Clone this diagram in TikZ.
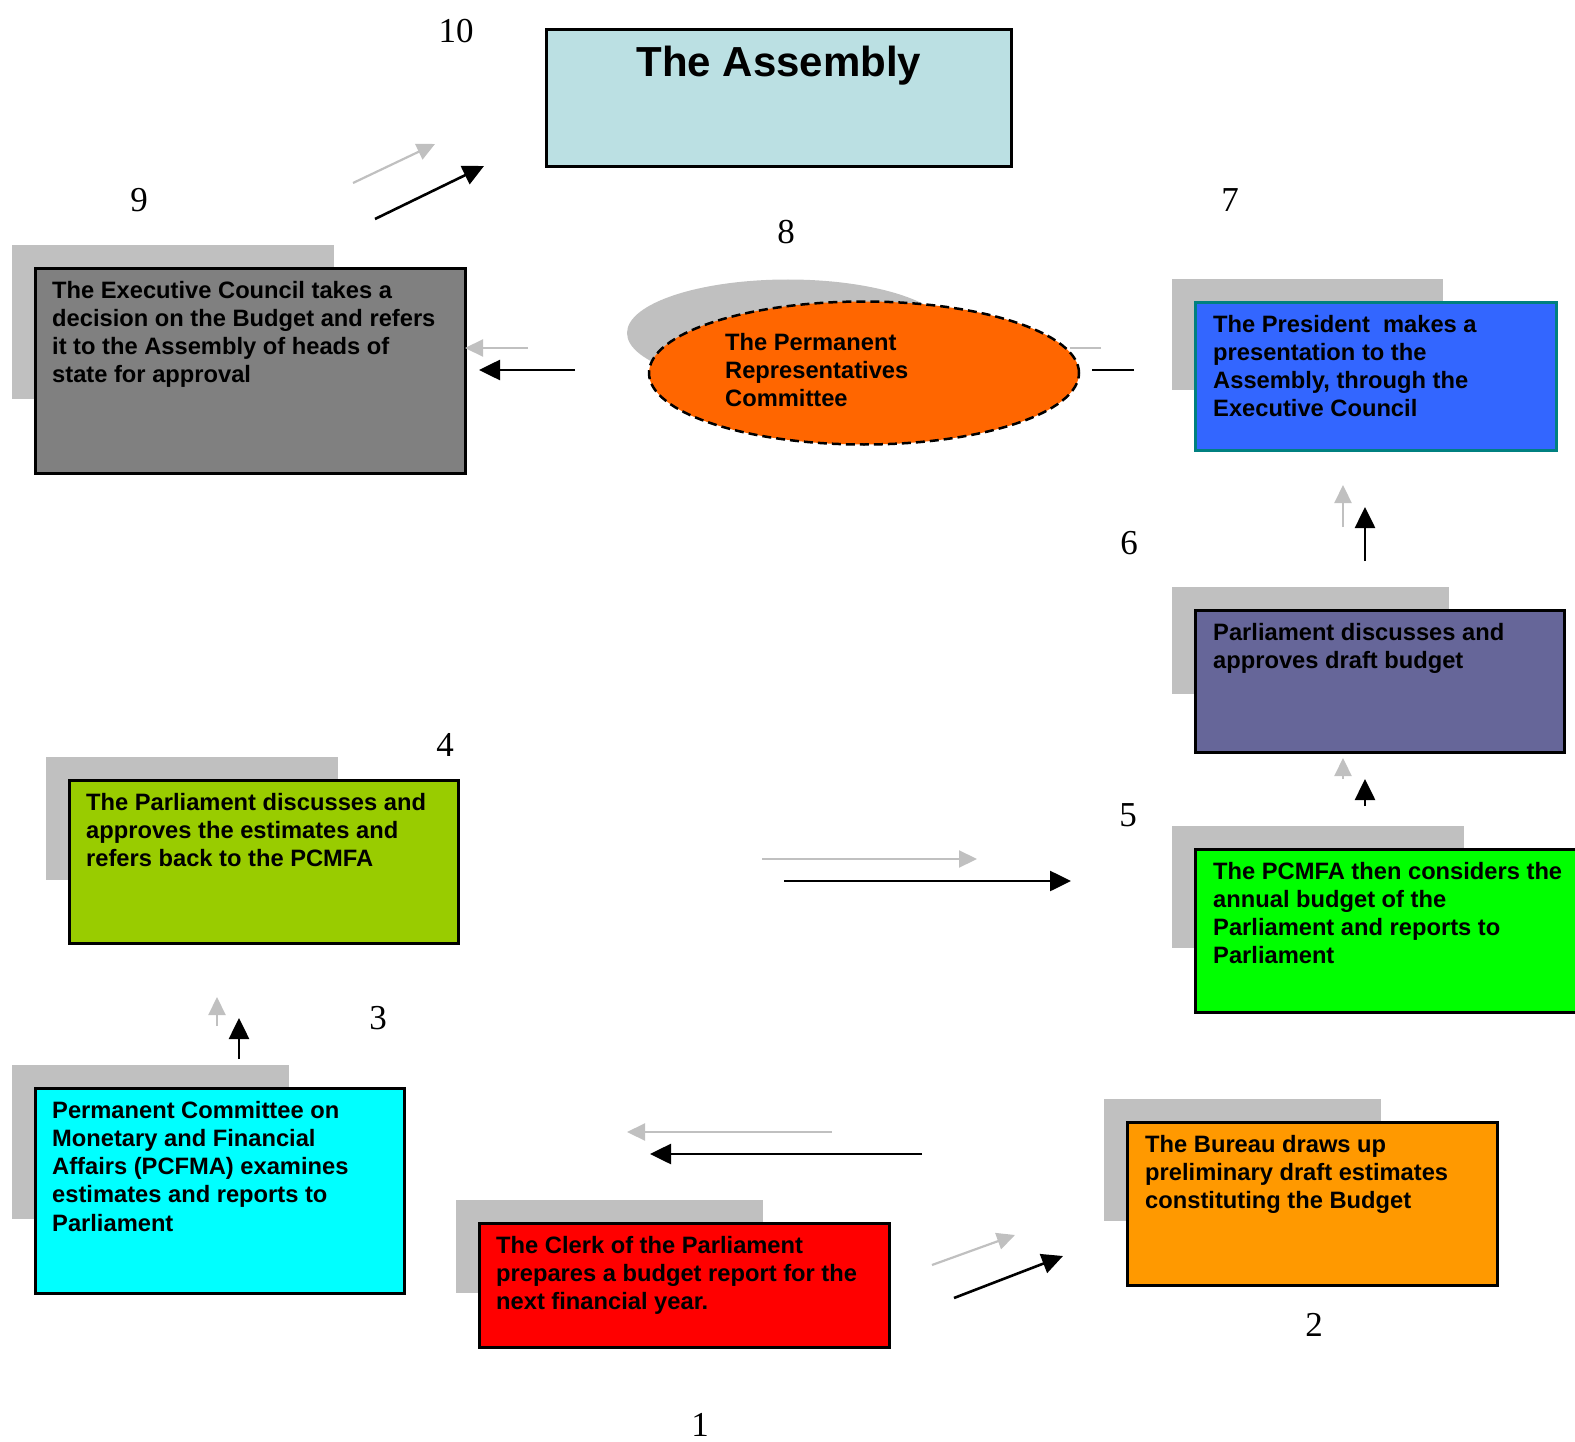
\documentclass[tikz,border=0pt]{standalone}
\usepackage{fontspec}
\newfontfamily\arialfont{Liberation Sans}
\newfontfamily\timesfont{Liberation Serif}
\usepackage{tikz}
\usetikzlibrary{positioning,shapes.geometric,arrows.meta}
\definecolor{assemblyblue}{HTML}{BBE0E3}
\definecolor{execgray}{HTML}{808080}
\definecolor{prcorange}{HTML}{FF6600}
\definecolor{presblue}{HTML}{3366FF}
\definecolor{presedge}{HTML}{008080}
\definecolor{parlpurple}{HTML}{666699}
\definecolor{pcmfagreen}{HTML}{00FF00}
\definecolor{parlolive}{HTML}{99CC00}
\definecolor{pcfmacyan}{HTML}{00FFFF}
\definecolor{clerkred}{HTML}{FF0000}
\definecolor{bureauorange}{HTML}{FF9900}
\definecolor{shadowgray}{HTML}{C0C0C0}
\tikzset{
  box/.style={draw,line width=2.6pt,anchor=north west,inner sep=0pt},
  boxtext/.style={font=\arialfont\bfseries\fontsize{23.7}{28.2}\selectfont,align=left,anchor=north west,inner sep=0pt},
  stepnum/.style={font=\timesfont\fontsize{35}{40}\selectfont,inner sep=0pt},
  shadowfill/.style={fill=shadowgray},
  flow/.style={line width=2.6pt,-{Triangle[length=21pt,width=20pt]}},
  flowshadow/.style={shadowgray,line width=2.2pt,-{Triangle[length=18pt,width=17pt]}}
}

\begin{document}
\begin{tikzpicture}[x=1pt,y=-1pt]
\useasboundingbox (0,0) rectangle (1575,1442);
% the assembly
  \node (ba) at (545,28) [box,fill=assemblyblue,minimum width=465pt,minimum height=137pt] {};
  \node [below=18pt of ba.north,inner sep=0pt,font=\arialfont\bfseries\fontsize{42}{48}\selectfont] {The Assembly};
% shadows
  \fill [shadowfill] (12,245) rectangle (334,399);
  \fill [shadowfill] (1172,279) rectangle (1443,390);
  \fill [shadowfill] (1172,587) rectangle (1449,694);
  \fill [shadowfill] (1172,826) rectangle (1464,948);
  \fill [shadowfill] (46,757) rectangle (338,880);
  \fill [shadowfill] (12,1065) rectangle (289,1219);
  \fill [shadowfill] (456,1200) rectangle (763,1293);
  \fill [shadowfill] (1104,1099) rectangle (1381,1221);
  \fill [shadowfill] (788,333) ellipse [x radius=161pt,y radius=53.5pt];
% steps
  \node (b9) at (34,267) [box,fill=execgray,minimum width=430pt,minimum height=205pt] {};
  \node [boxtext,below right=14pt and 18pt of b9.north west] {The Executive Council takes a\\decision on the Budget and refers\\it to the Assembly of heads of\\state for approval};
  \node (e8) at (864,373) [ellipse,draw,dashed,dash pattern=on 9pt off 5pt,line width=2.5pt,fill=prcorange,minimum width=430pt,minimum height=143pt,inner sep=0pt] {};
  \node [boxtext] at (725,333) {The Permanent\\Representatives\\Committee};
  \node (b7) at (1194,301) [box,draw=presedge,fill=presblue,minimum width=361pt,minimum height=148pt] {};
  \node [boxtext,below right=14pt and 19pt of b7.north west] {The President\ \ makes a\\presentation to the\\Assembly, through the\\Executive Council};
  \node (b6) at (1194,609) [box,fill=parlpurple,minimum width=369pt,minimum height=142pt] {};
  \node [boxtext,below right=14pt and 19pt of b6.north west] {Parliament discusses and\\approves draft budget};
  \node (b5) at (1194,848) [box,fill=pcmfagreen,minimum width=389pt,minimum height=163pt] {};
  \node [boxtext,below right=14pt and 19pt of b5.north west] {The PCMFA then considers the\\annual budget of the\\Parliament and reports to\\Parliament};
  \node (b4) at (68,779) [box,fill=parlolive,minimum width=389pt,minimum height=163pt] {};
  \node [boxtext,below right=14pt and 18pt of b4.north west] {The Parliament discusses and\\approves the estimates and\\refers back to the PCMFA};
  \node (b3) at (34,1087) [box,fill=pcfmacyan,minimum width=369pt,minimum height=205pt] {};
  \node [boxtext,below right=14pt and 18pt of b3.north west] {Permanent Committee on\\Monetary and Financial\\Affairs (PCFMA) examines\\estimates and reports to\\Parliament};
  \node (b1) at (478,1222) [box,fill=clerkred,minimum width=410pt,minimum height=124pt] {};
  \node [boxtext,below right=14pt and 18pt of b1.north west] {The Clerk of the Parliament\\prepares a budget report for the\\next financial year.};
  \node (b2) at (1126,1121) [box,fill=bureauorange,minimum width=370pt,minimum height=163pt] {};
  \node [boxtext,below right=14pt and 19pt of b2.north west] {The Bureau draws up\\preliminary draft estimates\\constituting the Budget};
% numbers
  \node [stepnum] at (456,31) {10};
  \node [stepnum] at (139,200) {9};
  \node [stepnum] at (786,232) {8};
  \node [stepnum] at (1230,200) {7};
  \node [stepnum] at (1129,543) {6};
  \node [stepnum] at (1128,815) {5};
  \node [stepnum] at (445,745) {4};
  \node [stepnum] at (378,1018) {3};
  \node [stepnum] at (1314,1325) {2};
  \node [stepnum] at (700,1425) {1};
% arrow shadows
  \draw [flowshadow] (932,1265) -- (1015,1235);
  \draw [flowshadow] (832,1132) -- (627,1132);
  \draw [flowshadow] (217,1026) -- (217,997);
  \draw [flowshadow] (762,859) -- (977,859);
  \draw [flowshadow] (1343,779) -- (1343,758);
  \draw [flowshadow] (1343,527) -- (1343,485);
  \draw [shadowgray,line width=2pt] (1101,348) -- (1070,348);
  \draw [flowshadow] (528,348) -- (465,348);
  \draw [flowshadow] (353,183) -- (435,144);
% arrows
  \coordinate (a12) at (954,1298);  \coordinate (a21) at (1063,1256);
  \coordinate (a23) at (922,1154);  \coordinate (a32) at (650,1154);
  \coordinate (a34) at (239,1059);  \coordinate (a43) at (239,1018);
  \coordinate (a45) at (784,881);   \coordinate (a54) at (1071,881);
  \coordinate (a56) at (1365,806);  \coordinate (a65) at (1365,779);
  \coordinate (a67) at (1365,561);  \coordinate (a76) at (1365,507);
  \coordinate (a78) at (1134,370);  \coordinate (a87) at (1092,370);
  \coordinate (a89) at (575,370);   \coordinate (a98) at (479,370);
  \coordinate (a910) at (375,219);  \coordinate (a109) at (484,166);
  \draw [flow] (a12) to (a21);
  \draw [flow] (a23) to (a32);
  \draw [flow] (a34) to (a43);
  \draw [flow] (a45) to (a54);
  \draw [flow] (a56) to (a65);
  \draw [flow] (a67) to (a76);
  \draw [line width=2.6pt] (a78) to (a87);
  \draw [flow] (a89) to (a98);
  \draw [flow] (a910) to (a109);
\end{tikzpicture}
\end{document}
